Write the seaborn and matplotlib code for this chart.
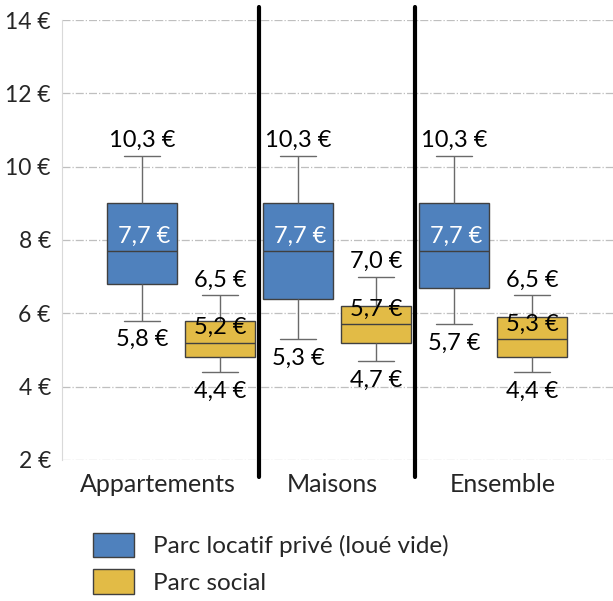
import pandas as pd
import matplotlib.pyplot as plt
import matplotlib.transforms as mtransforms
import seaborn as sns
from matplotlib.patches import Patch

categories = ["Appartements", "Maisons", "Ensemble"]
series = ["Parc locatif privé (loué vide)", "Parc social"]
colors = ["#4F81BD", "#E2BB46"]

# box statistics (€/m²)
prive_low = [5.8, 5.3, 5.7]
prive_q1 = [6.8, 6.4, 6.7]
prive_med = [7.7, 7.7, 7.7]
prive_q3 = [9.0, 9.0, 9.0]
prive_high = [10.3, 10.3, 10.3]

social_low = [4.4, 4.7, 4.4]
social_q1 = [4.8, 5.2, 4.8]
social_med = [5.2, 5.7, 5.3]
social_q3 = [5.8, 6.2, 5.9]
social_high = [6.5, 7.0, 6.5]

yticks = [2, 4, 6, 8, 10, 12, 14]


def fmt(v):
    return f"{v:.1f}".replace(".", ",") + " €"


rows = []
for i, cat in enumerate(categories):
    for s, stats in zip(series, [
        (prive_low, prive_q1, prive_med, prive_q3, prive_high),
        (social_low, social_q1, social_med, social_q3, social_high),
    ]):
        for arr in stats:
            rows.append({"type": cat, "parc": s, "loyer": arr[i]})
df = pd.DataFrame(rows)

sns.set_style("white")
plt.rcParams["font.family"] = ["Lato", "DejaVu Sans"]

fig = plt.figure(figsize=(6.13, 6.01), dpi=100)
ax = fig.add_axes([62 / 613, 1 - 460 / 601, 551 / 613, 440 / 601])

sns.boxplot(data=df, x="type", y="loyer", hue="parc", order=categories,
            hue_order=series, palette=colors, width=1.0, gap=0.1,
            whis=(0, 100), showfliers=False, linecolor="#404040",
            linewidth=1, legend=False, saturation=1, ax=ax,
            whiskerprops=dict(color="#6A6A6A"), capprops=dict(color="#6A6A6A"))

ax.set_ylim(2, 14)
ax.set_xlim(-0.763, 2.769)
ax.set_yticks(yticks)
ax.set_yticklabels([f"{t} €" for t in yticks], fontsize=16.5)
ax.tick_params(axis="y", length=0, pad=8)
ax.tick_params(axis="x", length=0, pad=9, labelsize=18, labelcolor="#262626")
ax.set_xlabel("")
ax.set_ylabel("")
ax.grid(axis="y", linestyle="-.", color="#BFBFBF", linewidth=0.9)
ax.set_axisbelow(True)
for side in ["top", "right", "bottom"]:
    ax.spines[side].set_visible(False)
ax.spines["left"].set_color("#D9D9D9")

# category labels are not exactly centred in the original
for lab, dx in zip(ax.get_xticklabels(), [-23, -5, 10]):
    lab.set_transform(lab.get_transform() +
                      mtransforms.ScaledTranslation(dx / 100, 0, fig.dpi_scale_trans))

# separators between groups
for xs in [0.5, 1.5]:
    ax.axvline(xs, ymin=-0.038, ymax=1.03, clip_on=False, color="black", lw=3)

# value labels
off = 0.25
pt = 72 / 100
for i in range(len(categories)):
    for k, (low, med, high) in enumerate([(prive_low, prive_med, prive_high),
                                          (social_low, social_med, social_high)]):
        x = i - off if k == 0 else i + off
        ax.annotate(fmt(high[i]), (x, high[i]), xytext=(0, 15 * pt),
                    textcoords="offset points", ha="center", va="center",
                    fontsize=17, color="black")
        ax.annotate(fmt(low[i]), (x, low[i]), xytext=(0, -19 * pt),
                    textcoords="offset points", ha="center", va="center",
                    fontsize=17, color="black")
        ax.annotate(fmt(med[i]), (x, med[i]), xytext=(2 * pt if k == 0 else 0, 15 * pt),
                    textcoords="offset points", ha="center", va="center",
                    fontsize=17, color="white" if k == 0 else "black")

handles = [Patch(facecolor=c, edgecolor="#404040", linewidth=1) for c in colors]
fig.legend(handles, series, loc="upper left", bbox_to_anchor=(93 / 613, 1 - 533 / 601),
           frameon=False, fontsize=17.5, borderpad=0, borderaxespad=0,
           handlelength=1.69, handleheight=1.15, handletextpad=0.78,
           labelspacing=0.5, labelcolor="#262626")

fig.savefig("out.png", dpi=100)
